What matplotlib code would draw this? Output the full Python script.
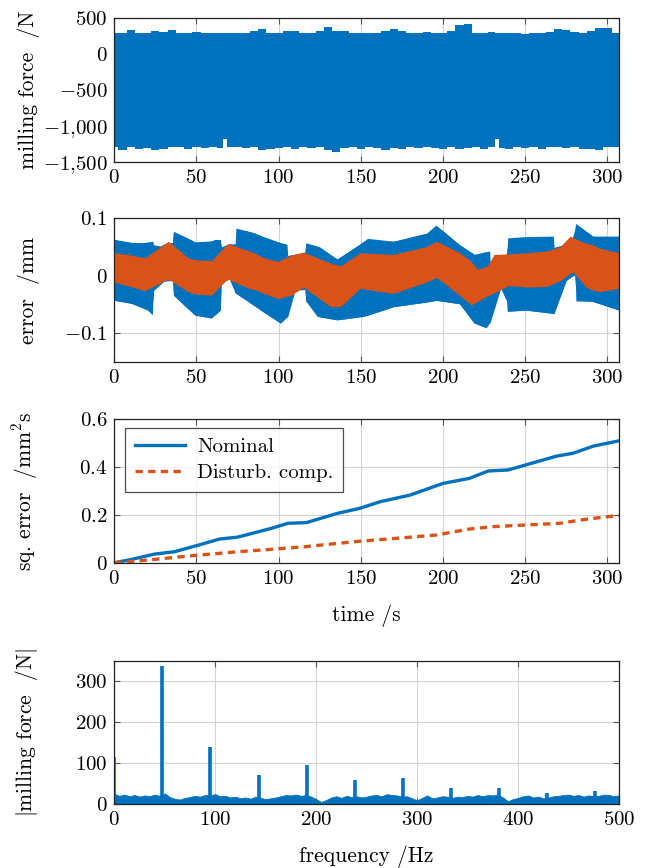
import numpy as np
import matplotlib
matplotlib.use('Agg')
import matplotlib.pyplot as plt

plt.rcParams['font.family'] = 'serif'
plt.rcParams['font.serif'] = ['cmr10']
plt.rcParams['mathtext.fontset'] = 'cm'
plt.rcParams['axes.formatter.use_mathtext'] = True

BLUE = '#0072bd'
ORANGE = '#d95319'
FS = 15
LFS = 15.5

# --- milling force envelope (N) over time (s)
force_t = [0, 5, 10, 15, 20, 25, 30, 35, 40, 45, 50, 55, 60, 65, 67, 70, 75, 80, 85, 90,
           95, 100, 105, 110, 115, 120, 125, 130, 135, 140, 145, 150, 155, 160, 165, 170,
           175, 180, 185, 190, 195, 200, 205, 210, 215, 220, 225, 230, 233, 235, 240, 245,
           250, 255, 260, 265, 270, 275, 280, 285, 290, 295, 300, 305, 307]
force_hi = [290, 300, 340, 290, 300, 330, 310, 340, 290, 300, 310, 290, 300, 290, 300, 300,
            300, 290, 320, 350, 300, 300, 320, 330, 300, 290, 320, 380, 330, 320, 300, 290,
            300, 290, 330, 350, 330, 300, 300, 310, 290, 300, 330, 410, 420, 300, 300, 310,
            300, 300, 300, 290, 280, 300, 300, 310, 350, 340, 310, 300, 330, 370, 370, 300, 290]
force_lo = [-1290, -1330, -1300, -1320, -1310, -1340, -1320, -1290, -1300, -1320, -1300,
            -1310, -1290, -1310, -1180, -1300, -1290, -1310, -1300, -1330, -1320, -1310,
            -1300, -1320, -1290, -1310, -1300, -1340, -1370, -1310, -1300, -1320, -1300,
            -1310, -1340, -1310, -1320, -1300, -1310, -1300, -1310, -1320, -1300, -1320,
            -1310, -1300, -1320, -1300, -1190, -1310, -1320, -1300, -1310, -1290, -1320,
            -1300, -1290, -1310, -1300, -1320, -1320, -1340, -1300, -1290, -1290]

# --- position error band, nominal controller (mm)
nom_t_hi = [0, 10, 20, 23.5, 24, 30, 35.5, 36, 45, 53, 61, 64.5, 65, 70, 73.5, 74, 85, 95,
            105, 105.5, 110, 116, 116.5, 125, 135.5, 145, 154, 170, 190, 195.5, 200, 210,
            219, 228.3, 228.8, 235, 238.8, 239.3, 250, 267, 267.5, 275, 280, 280.5, 291, 299, 307]
nom_hi = [0.063, 0.058, 0.057, 0.060, 0.045, 0.055, 0.058, 0.077, 0.065, 0.053, 0.063, 0.063,
          0.050, 0.056, 0.055, 0.083, 0.075, 0.062, 0.055, 0.035, 0.037, 0.041, 0.057, 0.050,
          0.029, 0.045, 0.065, 0.060, 0.074, 0.088, 0.078, 0.054, 0.037, 0.043, 0.017, 0.030,
          0.038, 0.066, 0.068, 0.069, 0.049, 0.055, 0.069, 0.091, 0.069, 0.060, 0.069]
nom_t_lo = [0, 10, 16.6, 23.2, 23.7, 28, 32.8, 35.5, 36, 49, 59, 64.5, 65, 73, 73.5, 80,
            89, 101, 105.5, 106, 116, 116.5, 123.4, 135.5, 151.8, 170, 190, 196, 210, 219,
            226.2, 228.8, 229.3, 238.5, 239, 251, 267.5, 268, 275, 278.5, 280.3, 280.8, 291, 307]
nom_lo = [-0.043, -0.048, -0.051, -0.068, -0.026, -0.015, -0.003, -0.008, -0.034, -0.069,
          -0.074, -0.060, -0.011, -0.003, -0.030, -0.042, -0.060, -0.083, -0.071, -0.026,
          -0.024, -0.044, -0.071, -0.077, -0.071, -0.054, -0.046, -0.043, -0.049, -0.083,
          -0.091, -0.080, -0.026, -0.020, -0.062, -0.060, -0.066, -0.014, -0.008, 0.000,
          0.002, -0.044, -0.045, -0.060]

# --- position error band, disturbance compensation (mm)
comp_t = [0, 8.5, 18.6, 32.8, 45, 49, 59, 67, 69, 82, 85, 92, 99.6, 107.7, 115, 131.5, 137.6,
          149.5, 169.7, 190, 196, 210, 217, 221, 227, 231, 240, 251, 263, 271, 277.3, 279.3,
          287, 291, 295, 307]
comp_hi = [0.040, 0.037, 0.031, 0.060, 0.031, 0.028, 0.026, 0.050, 0.056, 0.043, 0.040,
           0.030, 0.025, 0.036, 0.041, 0.022, 0.017, 0.040, 0.037, 0.051, 0.060, 0.040,
           0.025, 0.011, 0.017, 0.037, 0.038, 0.040, 0.043, 0.050, 0.069, 0.066, 0.056,
           0.054, 0.048, 0.040]
comp_lo = [-0.011, -0.018, -0.026, -0.006, -0.028, -0.032, -0.034, -0.011, -0.006, -0.022,
           -0.024, -0.032, -0.040, -0.034, -0.020, -0.054, -0.054, -0.022, -0.031, -0.011,
           -0.003, -0.034, -0.051, -0.045, -0.035, -0.030, -0.017, -0.020, -0.019, -0.009,
           0.004, 0.006, -0.020, -0.025, -0.028, -0.022]

# --- accumulated squared error (mm^2 s)
sq_t_nom = [0, 10, 24.4, 36.6, 49.8, 64, 75, 95.6, 105.7, 116.9, 136, 149.5, 161.6, 179.9,
            200, 216, 227.5, 239.5, 250.7, 269, 279, 291.4, 307]
sq_nominal = [0, 0.013, 0.036, 0.046, 0.071, 0.099, 0.107, 0.144, 0.165, 0.168, 0.207,
              0.228, 0.255, 0.283, 0.332, 0.353, 0.384, 0.388, 0.410, 0.446, 0.458, 0.488, 0.510]
sq_t_comp = [0, 10, 24.4, 46.7, 75, 95.6, 115.9, 136, 149.5, 169.7, 196, 216, 230.6, 250.7,
             271, 287, 307]
sq_comp = [0, 0.005, 0.014, 0.029, 0.046, 0.056, 0.067, 0.081, 0.090, 0.101, 0.116, 0.141,
           0.151, 0.158, 0.165, 0.182, 0.198]

# --- force spectrum (N)
peak_f = [0, 47.7, 95.3, 143, 190.7, 238.3, 286, 333.7, 381.3, 429, 476.7]
peak_amp = [116, 338, 140, 72, 96, 59, 64, 39, 40, 28, 33]
floor_f = [0, 5, 10, 15, 20, 25, 30, 35, 40, 45, 50, 55, 60, 65, 70, 75, 80, 85, 90, 95, 100,
           105, 110, 115, 120, 125, 130, 135, 140, 145, 150, 155, 160, 165, 170, 175, 180, 185,
           190, 195, 200, 205, 210, 215, 220, 225, 230, 235, 240, 245, 250, 255, 260, 265, 270,
           275, 280, 285, 290, 295, 300, 305, 310, 315, 320, 325, 330, 335, 340, 345, 350, 355,
           360, 365, 370, 375, 380, 385, 390, 395, 400, 405, 410, 415, 420, 425, 430, 435, 440,
           445, 450, 455, 460, 465, 470, 475, 480, 485, 490, 495, 500]
floor_amp = [25, 20, 23, 19, 22, 18, 21, 19, 23, 20, 26, 17, 13, 11, 15, 17, 20, 18, 22, 21,
             24, 19, 20, 16, 18, 14, 16, 13, 18, 15, 12, 14, 16, 19, 22, 21, 23, 20, 22, 18,
             12, 5, 10, 16, 19, 15, 20, 17, 19, 16, 18, 21, 22, 19, 24, 22, 21, 18, 19, 14,
             9, 15, 21, 14, 16, 19, 18, 15, 18, 17, 20, 18, 22, 19, 22, 21, 23, 16, 7, 12,
             15, 19, 21, 16, 18, 14, 16, 19, 20, 22, 23, 20, 22, 18, 21, 19, 20, 23, 22, 19, 21]


def mlab(v, fmt):
    s = fmt(abs(v))
    return r'$-%s$' % s if v < 0 else r'$%s$' % s


def style(ax, xlim, xticks, ylim, yticks, ylabels):
    ax.set_xlim(*xlim)
    ax.set_ylim(*ylim)
    ax.set_xticks(xticks)
    ax.set_xticklabels([r'$%d$' % v for v in xticks])
    ax.set_yticks(yticks)
    ax.set_yticklabels(ylabels)
    ax.grid(True, color='#d3d3d3', lw=0.8)
    ax.set_axisbelow(True)
    ax.tick_params(direction='in', length=4, width=0.8, color='#555555',
                   top=True, right=True, labelsize=FS, pad=5)
    for sp in ax.spines.values():
        sp.set_linewidth(0.9)
        sp.set_color('#222222')
    ax.yaxis.set_label_coords(-0.148, 0.5)


fig = plt.figure(figsize=(6.46, 8.68), dpi=100)
L, W, H = 0.1769, 0.7813, 0.1652
t_ticks = [0, 50, 100, 150, 200, 250, 300]

# milling force
ax1 = fig.add_axes([L, 0.8137, W, H])
ax1.fill_between(force_t, force_lo, force_hi, step='mid', color=BLUE, lw=0)
yt = [-1500, -1000, -500, 0, 500]
style(ax1, (0, 307), t_ticks, (-1500, 500), yt,
      [mlab(v, lambda a: ('%d' % a) if a < 1000 else '%d{,}%03d' % (a // 1000, a % 1000)) for v in yt])
ax1.set_ylabel('milling force  /N', fontsize=LFS)

# tracking error
ax2 = fig.add_axes([L, 0.5833, W, H])
ax2.fill_between(nom_t_hi, np.interp(nom_t_hi, nom_t_lo, nom_lo), nom_hi, color=BLUE, lw=0)
ax2.fill_between(nom_t_lo, nom_lo, np.interp(nom_t_lo, nom_t_hi, nom_hi), color=BLUE, lw=0)
ax2.fill_between(comp_t, comp_lo, comp_hi, color=ORANGE, lw=0)
yt = [-0.1, 0, 0.1]
style(ax2, (0, 307), t_ticks, (-0.15, 0.1), yt,
      [mlab(v, lambda a: '%g' % a) for v in yt])
ax2.set_ylabel('error  /mm', fontsize=LFS)

# accumulated squared error
ax3 = fig.add_axes([L, 0.3517, W, H])
ax3.plot(sq_t_nom, sq_nominal, color=BLUE, lw=2.4, label='Nominal')
ax3.plot(sq_t_comp, sq_comp, color=ORANGE, lw=2.4, ls=(0, (2.2, 1.6)), label='Disturb. comp.')
yt = [0, 0.2, 0.4, 0.6]
style(ax3, (0, 307), t_ticks, (0, 0.6), yt, [mlab(v, lambda a: '%g' % a) for v in yt])
ax3.set_ylabel(r'sq. error  /mm$^2$s', fontsize=LFS)
ax3.set_xlabel('time /s', fontsize=LFS, labelpad=12)
leg = ax3.legend(loc='upper left', fontsize=FS, frameon=True, fancybox=False,
                 edgecolor='#222222', handlelength=2.4, borderpad=0.45,
                 borderaxespad=0, handletextpad=0.6, labelspacing=0.35,
                 bbox_to_anchor=(0.022, 0.937))
leg.get_frame().set_linewidth(0.9)

# force spectrum
ax4 = fig.add_axes([L, 0.0737, W, H])
ax4.fill_between(floor_f, 0, floor_amp, color=BLUE, lw=0.6, edgecolor=BLUE)
ax4.vlines(peak_f, 0, peak_amp, color=BLUE, lw=2.6)
fticks = [0, 100, 200, 300, 400, 500]
style(ax4, (0, 500), fticks, (0, 350), [0, 100, 200, 300],
      [r'$%d$' % v for v in [0, 100, 200, 300]])
ax4.set_ylabel(r'$|$milling force  /N$|$', fontsize=LFS)
ax4.set_xlabel('frequency /Hz', fontsize=LFS, labelpad=12)

fig.savefig('out.png', dpi=100)
